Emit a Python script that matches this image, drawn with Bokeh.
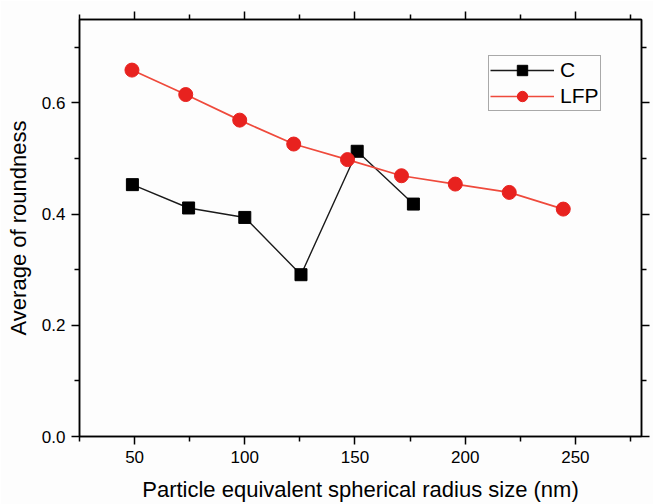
from bokeh.plotting import figure
from bokeh.models import (LinearAxis, FixedTicker, PrintfTickFormatter, Range1d,
                          Legend, LegendItem, CustomLabelingPolicy)
from bokeh.embed import file_html
from bokeh.resources import INLINE

# ---- data ----
c_x = [49, 74.5, 100, 125.5, 151, 176.5]
c_y = [0.453, 0.411, 0.394, 0.291, 0.513, 0.418]
lfp_x = [48.8, 73.2, 97.7, 122.2, 146.6, 171.1, 195.5, 220.0, 244.5]
lfp_y = [0.659, 0.615, 0.569, 0.526, 0.498, 0.469, 0.454, 0.439, 0.409]
x_ticks = [50, 100, 150, 200, 250]
x_minor = [25, 75, 125, 175, 225, 275]
y_ticks = [0.0, 0.2, 0.4, 0.6]
y_minor = [0.1, 0.3, 0.5, 0.7]
x_label = "Particle equivalent spherical radius size (nm)"
y_label = "Average of roundness"

FONT = "Liberation Sans"
BG = "#fdfdfd"
RED = "#e8221f"
RED_LINE = "#ef4a3c"

p = figure(width=653, height=504, output_backend="svg", toolbar_location=None,
           x_range=Range1d(25, 280), y_range=Range1d(0.0, 0.75),
           min_border_left=79, min_border_right=7, min_border_top=19,
           min_border_bottom=67, background_fill_color=BG, border_fill_color=BG,
           outline_line_color="black", outline_line_width=1.5)
p.xgrid.visible = False
p.ygrid.visible = False


def style_axis(ax, ticks, minor, show_labels):
    ax.ticker = FixedTicker(ticks=ticks, minor_ticks=minor)
    ax.axis_line_color = "black"
    ax.axis_line_width = 1.5
    ax.major_tick_line_color = "black"
    ax.major_tick_line_width = 1.5
    ax.minor_tick_line_color = "black"
    ax.minor_tick_line_width = 1.5
    ax.major_tick_in = 0
    ax.major_tick_out = 8
    ax.minor_tick_in = 0
    ax.minor_tick_out = 5
    ax.major_label_text_font = FONT
    ax.major_label_text_color = "black"
    ax.axis_label_text_font = FONT
    ax.axis_label_text_font_style = "normal"
    ax.axis_label_text_color = "black"
    if show_labels:
        ax.major_label_text_font_size = "17px"
    else:
        ax.major_label_text_font_size = "1px"
        ax.major_label_standoff = 0
        ax.major_label_policy = CustomLabelingPolicy(code="return new Set()")


xa = p.xaxis[0]
style_axis(xa, x_ticks, x_minor, True)
xa.axis_label = x_label
xa.axis_label_text_font_size = "22px"
xa.major_label_standoff = 6
xa.axis_label_standoff = 11

ya = p.yaxis[0]
style_axis(ya, y_ticks, y_minor, True)
ya.formatter = PrintfTickFormatter(format="%.1f")
ya.axis_label = y_label
ya.axis_label_text_font_size = "22px"
ya.major_label_standoff = 6
ya.axis_label_standoff = 8

top = LinearAxis()
style_axis(top, x_ticks, x_minor, False)
p.add_layout(top, "above")

right = LinearAxis()
style_axis(right, y_ticks, y_minor, False)
p.add_layout(right, "right")

# ---- series ----
c_line = p.line(c_x, c_y, line_color="#1a1a1a", line_width=1.4)
c_pts = p.scatter(c_x, c_y, marker="square", size=12, fill_color="black",
                  line_color="black")
l_line = p.line(lfp_x, lfp_y, line_color=RED_LINE, line_width=1.7)
l_pts = p.scatter(lfp_x, lfp_y, marker="circle", size=14, fill_color=RED,
                  line_color=RED)

legend = Legend(items=[LegendItem(label="C", renderers=[c_line, c_pts]),
                       LegendItem(label="LFP", renderers=[l_line, l_pts])],
                location=(409, 325), margin=0, padding=1, spacing=0,
                glyph_width=64, glyph_height=26, label_height=26,
                label_standoff=6, label_text_font=FONT,
                label_text_font_size="21px", label_text_color="black",
                border_line_color="#555555", border_line_width=1,
                background_fill_color=BG, background_fill_alpha=1.0)
p.add_layout(legend, "center")

open("out.html", "w").write(file_html(p, INLINE))
